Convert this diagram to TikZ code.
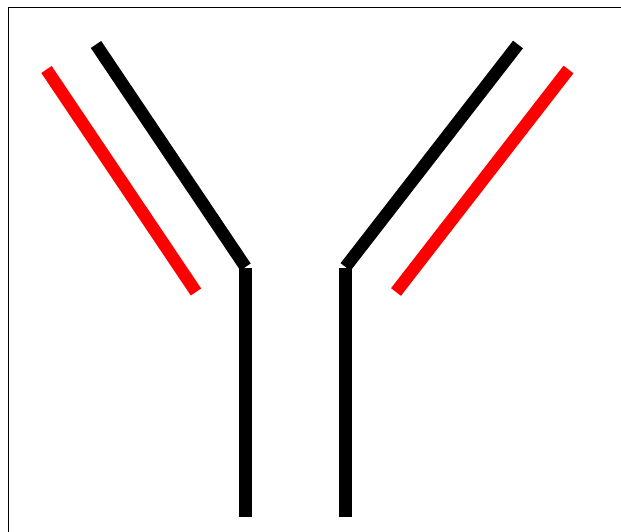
\documentclass[tikz,border=0pt]{standalone}
\usepackage{tikz}
\usetikzlibrary{positioning}

\begin{document}
\begin{tikzpicture}[x=1pt,y=-1pt,
  stem/.style={draw=black,line width=12.5pt},
  arm/.style={draw=black,line width=12.5pt},
  chain/.style={draw=red,line width=12.5pt}]
\useasboundingbox (0,0) rectangle (621,532);
\draw[line width=1pt] (8,8) rectangle (650,560);
% heavy chains
\coordinate (hl top) at (245.5,268);
\coordinate (hl bot) at (245.5,517);
\coordinate (hr top) at (345.5,268);
\coordinate (hr bot) at (345.5,517);
\coordinate (al end) at (96,44.5);
\coordinate (ar end) at (518,44.5);
\draw[stem] (hl top) -- (hl bot);
\draw[stem] (hr top) -- (hr bot);
\draw[arm] (hl top) ++(0,-1) coordinate (al base) -- (al end);
\draw[arm] (hr top) ++(0,-1) coordinate (ar base) -- (ar end);
% light chains
\coordinate (ll top) at (46.5,69.5);
\coordinate (ll bot) at (196,292);
\coordinate (lr top) at (568.5,69.5);
\coordinate (lr bot) at (396,292);
\draw[chain] (ll top) -- (ll bot);
\draw[chain] (lr top) -- (lr bot);
\end{tikzpicture}
\end{document}
